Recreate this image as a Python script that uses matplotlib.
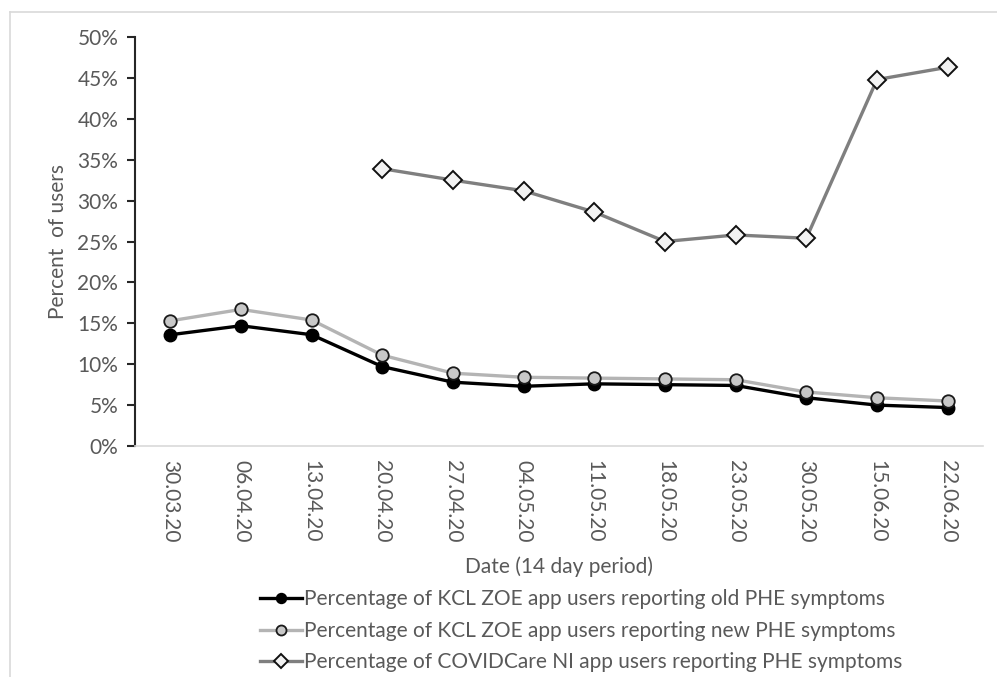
import matplotlib.pyplot as plt
from matplotlib.lines import Line2D
from matplotlib.ticker import PercentFormatter
import numpy as np

plt.rcParams['font.family'] = ['Lato', 'DejaVu Sans']

dates = ['30.03.20', '06.04.20', '13.04.20', '20.04.20', '27.04.20', '04.05.20',
         '11.05.20', '18.05.20', '23.05.20', '30.05.20', '15.06.20', '22.06.20']
zoe_old = [13.6, 14.7, 13.6, 9.7, 7.8, 7.3, 7.6, 7.5, 7.4, 5.9, 5.0, 4.7]
zoe_new = [15.3, 16.7, 15.4, 11.1, 8.9, 8.4, 8.3, 8.2, 8.1, 6.6, 5.9, 5.5]
# COVIDCare NI only starts from 20.04.20
covidcare = [np.nan, np.nan, np.nan, 33.9, 32.5, 31.2, 28.6, 25.0, 25.8, 25.4, 44.8, 46.3]

labels = ['Percentage of KCL ZOE app users reporting old PHE symptoms',
          'Percentage of KCL ZOE app users reporting new PHE symptoms',
          'Percentage of COVIDCare NI app users reporting PHE symptoms']

txt = '#595959'
fs = 15
fig = plt.figure(figsize=(9.97, 6.77), dpi=100)
ax = fig.add_axes([135 / 997, 1 - 446 / 677, 848 / 997, 409 / 677])

x = np.arange(len(dates))
ax.plot(x, zoe_old, color='black', lw=2.4, marker='o', ms=9,
        mfc='black', mec='black', label=labels[0], zorder=3)
ax.plot(x, zoe_new, color='#b4b4b4', lw=2.4, marker='o', ms=9,
        mfc='#c8c8c8', mec='#1a1a1a', mew=1.3, label=labels[1], zorder=4)
ax.plot(x, covidcare, color='#7f7f7f', lw=2.4, marker='D', ms=9,
        mfc='#f2f2f2', mec='#111111', mew=1.4, label=labels[2], zorder=3)

ax.set_xlim(-0.5, len(dates) - 0.5)
ax.set_ylim(0, 50)
ax.set_yticks(np.arange(0, 51, 5))
ax.yaxis.set_major_formatter(PercentFormatter(decimals=0))
ax.set_xticks(x)
ax.set_xticklabels(dates, rotation=-90)

for s in ['top', 'right']:
    ax.spines[s].set_visible(False)
ax.spines['left'].set_color('#262626')
ax.spines['left'].set_linewidth(1.5)
ax.spines['bottom'].set_color('#d9d9d9')
ax.spines['bottom'].set_linewidth(1.2)

ax.tick_params(axis='y', colors='#262626', labelcolor=txt, labelsize=fs,
               length=6, width=1.5, pad=6)
ax.tick_params(axis='x', length=0, labelcolor=txt, labelsize=fs, pad=10)

ax.set_ylabel('Percent  of users', color=txt, fontsize=fs, labelpad=7)
ax.set_xlabel('Date (14 day period)', color=txt, fontsize=fs, labelpad=10)

fig.legend(loc='upper left', bbox_to_anchor=(252 / 997, 1 - 581 / 677),
           frameon=False, fontsize=fs, labelcolor=txt, handlelength=2.0,
           handletextpad=0.1, labelspacing=0.55, borderaxespad=0,
           markerscale=0.8)

# light frame round the chart area
fig.add_artist(Line2D([10 / 997, 1], [1 - 12 / 677] * 2, color='#d9d9d9', lw=1.2))
fig.add_artist(Line2D([10 / 997] * 2, [0, 1 - 12 / 677], color='#d9d9d9', lw=1.2))

fig.savefig('out.png', dpi=100)
